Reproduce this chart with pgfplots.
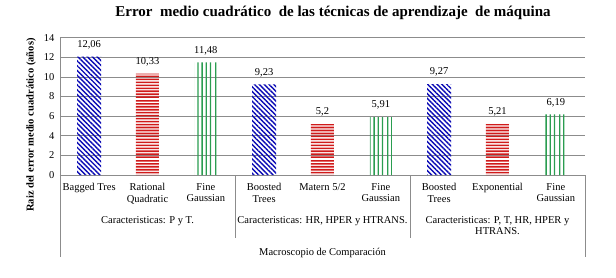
\documentclass[border=0pt]{standalone}
\usepackage{fontspec}
\setmainfont{Liberation Serif}
\usepackage{pgfplots}
\pgfplotsset{compat=1.18}
\usetikzlibrary{patterns,patterns.meta}
\definecolor{barblue}{HTML}{0A0AB4}
\definecolor{barred}{HTML}{D01A1A}
\definecolor{bargreen}{HTML}{2A9D50}
\definecolor{axgray}{HTML}{8C8C8C}
\pgfdeclarepatternformonly{hstripes}{\pgfpointorigin}{\pgfqpoint{300pt}{60pt}}{\pgfqpoint{300pt}{60pt}}{%
  \foreach \i in {0,...,19} {\pgfpathrectangle{\pgfpoint{0pt}{\i*3pt}}{\pgfpoint{300pt}{1.6pt}}}%
  \pgfusepath{fill}}
\pgfdeclarepatternformonly{vstripes}{\pgfpointorigin}{\pgfqpoint{43pt}{300pt}}{\pgfqpoint{43pt}{300pt}}{%
  \foreach \i in {0,...,9} {\pgfpathrectangle{\pgfpoint{\i*4.3pt}{0pt}}{\pgfpoint{1.3pt}{300pt}}}%
  \pgfusepath{fill}}
\begin{document}
\begin{tikzpicture}[x=1pt,y=1pt]
\useasboundingbox (-60,-102) rectangle (556,175);
\begin{axis}[
  at={(0,0)}, anchor=south west,
  scale only axis, width=525pt, height=137.3pt,
  xmin=-0.5, xmax=8.5, ymin=0, ymax=14,
  ytick={0,2,...,14},
  xtick={0,...,8},
  xticklabels={Bagged Tres, Rational\\Quadratic, Fine\\Gaussian, Boosted\\Trees, Matern 5/2, Fine\\Gaussian, Boosted\\Trees, Exponential, Fine\\Gaussian},
  xticklabel style={align=center, font=\fontsize{10.5}{11.5}\selectfont, anchor=north, yshift=-5pt},
  yticklabel style={font=\fontsize{10.5}{12}\selectfont, xshift=-2pt},
  /pgf/number format/assume math mode=true,
  /pgf/number format/use comma,
  /pgf/number format/1000 sep={},
  axis x line*=bottom, axis y line*=left,
  axis line style={axgray, line width=0.8pt, -},
  major tick length=0pt,
  ymajorgrids, grid style={axgray, line width=0.8pt},
  clip=false,
  nodes near coords,
  every node near coord/.append style={font=\fontsize{10.5}{12}\selectfont, black, anchor=south, yshift=4pt},
]
\addplot[ybar, bar shift=0pt, bar width=24pt, draw=none, pattern={Lines[angle=-45, distance=3.4pt, line width=1.4pt]}, pattern color=barblue]
  coordinates {(0,12.06) (3,9.23) (6,9.27)};
\addplot[ybar, bar shift=0pt, bar width=23pt, draw=none, pattern=hstripes, pattern color=barred]
  coordinates {(1,10.33) (4,5.2) (7,5.21)};
\addplot[ybar, bar shift=0pt, bar width=22pt, draw=none, pattern=vstripes, pattern color=bargreen]
  coordinates {(2,11.48) (5,5.91) (8,6.19)};
% group separators
\draw[axgray, line width=0.8pt] (axis cs:-0.5,0) -- ++(0pt,-82pt);
\draw[axgray, line width=0.8pt] (axis cs:2.5,0) -- ++(0pt,-63pt);
\draw[axgray, line width=0.8pt] (axis cs:5.5,0) -- ++(0pt,-63pt);
\draw[axgray, line width=0.8pt] (axis cs:8.5,0) -- ++(0pt,-82pt);
\node[font=\fontsize{10.5}{11.5}\selectfont, align=center, anchor=north] at (axis cs:1,0) [yshift=-38pt] {Caracteristicas: P y T.};
\node[font=\fontsize{10.5}{11.5}\selectfont, align=center, anchor=north] at (axis cs:4,0) [yshift=-38pt] {Caracteristicas: HR, HPER y HTRANS.};
\node[font=\fontsize{10.5}{11.5}\selectfont, align=center, anchor=north] at (axis cs:7,0) [yshift=-38pt] {Caracteristicas: P, T, HR, HPER y\\HTRANS.};
\node[font=\fontsize{10.5}{11.5}\selectfont, anchor=north] at (axis cs:4,0) [yshift=-70pt] {Macroscopio de Comparación};
\end{axis}
\node[font=\bfseries\fontsize{10.5}{12}\selectfont, rotate=90] at (-29,50) {Raiz del error medio cuadrático (años)};
\node[font=\bfseries\fontsize{15}{17}\selectfont] at (273,162) {Error\ \ medio cuadrático\ \ de las técnicas de aprendizaje\ \ de máquina};
\end{tikzpicture}
\end{document}
